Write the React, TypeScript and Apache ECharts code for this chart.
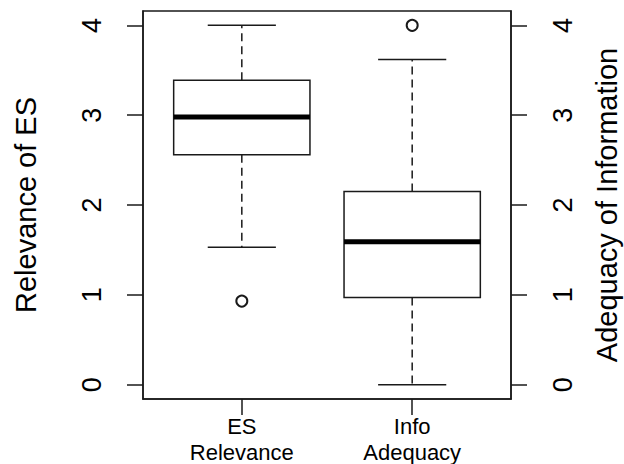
import React, { useEffect, useRef } from "react";
import * as echarts from "echarts";

const categories = ["ES\nRelevance", "Info\nAdequacy"];
const positions = [1, 2];
// [lower whisker, Q1, median, Q3, upper whisker]
const esStats = [1.53, 2.56, 2.98, 3.39, 4.0];
const infoStats = [0.0, 0.97, 1.59, 2.15, 3.62];
const outlierX = [1, 2];
const outlierY = [0.93, 4.0];
const yTicks = [0, 1, 2, 3, 4];
const leftTitle = "Relevance of ES";
const rightTitle = "Adequacy of Information";

const FONT = "'Liberation Sans', Arial, sans-serif";
const INK = "#1a1a1a";

export default function App() {
  const ref = useRef<HTMLDivElement>(null);
  useEffect(() => {
    document.body.style.margin = "0";
    if (!ref.current) return;
    const chart = echarts.init(ref.current, null, { renderer: "svg" });
    const stats = [esStats, infoStats];
    const boxData = stats.map((s, i) => [positions[i], ...s]);
    const outData = outlierX.map((x, i) => [x, outlierY[i]]);

    const yAxisBase = (pos: "left" | "right", name: string, gap: number) => ({
      type: "value",
      position: pos,
      min: -0.16,
      max: 4.16,
      splitLine: { show: false },
      axisLine: { show: true, onZero: false, lineStyle: { color: INK, width: 1.5 } },
      axisTick: {
        show: true,
        customValues: yTicks,
        length: 16,
        lineStyle: { color: INK, width: 1.5 },
      },
      axisLabel: {
        customValues: yTicks,
        rotate: 90,
        margin: 38,
        fontSize: 27,
        color: "#000",
        fontFamily: FONT,
      },
      name,
      nameLocation: "middle",
      nameGap: gap,
      nameTextStyle: { fontSize: 29, lineHeight: 26, color: "#000", fontFamily: FONT },
    });

    chart.setOption({
      animation: false,
      backgroundColor: "#fff",
      grid: {
        left: 143,
        right: 113,
        top: 11,
        bottom: 65,
        outerBoundsMode: "none",
        containLabel: false,
        show: true,
        borderColor: INK,
        borderWidth: 1.5,
        backgroundColor: "transparent",
      },
      xAxis: {
        type: "value",
        min: 0.42,
        max: 2.58,
        splitLine: { show: false },
        axisLine: { show: true, onZero: false, lineStyle: { color: INK, width: 1.5 } },
        axisTick: {
          show: true,
          customValues: positions,
          length: 16,
          lineStyle: { color: INK, width: 1.5 },
        },
        axisLabel: {
          customValues: positions,
          formatter: (v: number) => categories[positions.indexOf(Math.round(v))] ?? "",
          margin: 14,
          fontSize: 22,
          lineHeight: 26,
          color: "#000",
          fontFamily: FONT,
        },
      },
      yAxis: [yAxisBase("left", leftTitle, 104), yAxisBase("right", rightTitle, 83)],
      series: [
        {
          type: "custom",
          xAxisIndex: 0,
          yAxisIndex: 0,
          data: boxData,
          encode: { x: 0, y: [1, 2, 3, 4, 5] },
          renderItem: (params: any, api: any) => {
            const x = api.value(0);
            const lo = api.coord([x, api.value(1)]);
            const q1 = api.coord([x, api.value(2)]);
            const md = api.coord([x, api.value(3)]);
            const q3 = api.coord([x, api.value(4)]);
            const hi = api.coord([x, api.value(5)]);
            const cx = lo[0];
            const hb = api.size([0.4, 0])[0];
            const line = { stroke: INK, lineWidth: 1.5 };
            const dash = { stroke: INK, lineWidth: 1.5, lineDash: [8, 5] };
            return {
              type: "group",
              children: [
                { type: "line", shape: { x1: cx, y1: q3[1], x2: cx, y2: hi[1] }, style: dash },
                { type: "line", shape: { x1: cx, y1: q1[1], x2: cx, y2: lo[1] }, style: dash },
                { type: "line", shape: { x1: cx - hb / 2, y1: hi[1], x2: cx + hb / 2, y2: hi[1] }, style: line },
                { type: "line", shape: { x1: cx - hb / 2, y1: lo[1], x2: cx + hb / 2, y2: lo[1] }, style: line },
                {
                  type: "rect",
                  shape: { x: cx - hb, y: q3[1], width: 2 * hb, height: q1[1] - q3[1] },
                  style: { fill: "#fff", stroke: INK, lineWidth: 1.5 },
                },
                { type: "line", shape: { x1: cx - hb, y1: md[1], x2: cx + hb, y2: md[1] }, style: { stroke: "#000", lineWidth: 5 } },
              ],
            };
          },
        },
        {
          type: "scatter",
          xAxisIndex: 0,
          yAxisIndex: 0,
          data: outData,
          symbol: "emptyCircle",
          symbolSize: 11,
          itemStyle: { color: INK, borderColor: INK, borderWidth: 1.4, opacity: 1 },
        },
      ],
    });
    return () => chart.dispose();
  }, []);
  return <div ref={ref} style={{ width: 624, height: 464 }} />;
}
